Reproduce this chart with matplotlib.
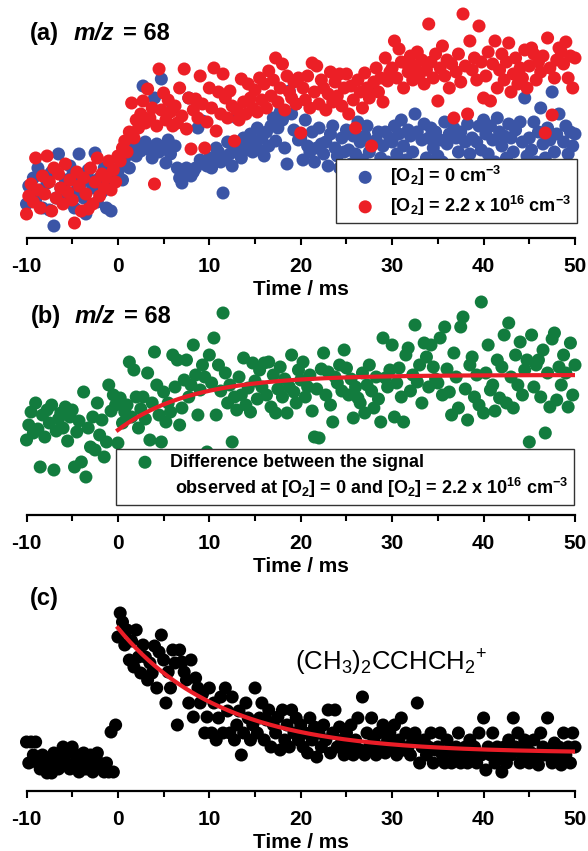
import numpy as np
import matplotlib
matplotlib.use("Agg")
import matplotlib.pyplot as plt
from matplotlib.lines import Line2D

# figure size in pixels (dpi 100)
W, H = 588, 851

plt.rcParams["font.family"] = ["Liberation Sans", "DejaVu Sans"]
plt.rcParams["font.weight"] = "bold"
plt.rcParams["axes.labelweight"] = "bold"
plt.rcParams["axes.unicode_minus"] = False
plt.rcParams["mathtext.fontset"] = "custom"
plt.rcParams["mathtext.rm"] = "Liberation Sans"
plt.rcParams["mathtext.bf"] = "Liberation Sans:bold"
plt.rcParams["mathtext.default"] = "bf"

# time axis: one sample every 0.25 ms from -10 to 50 ms
t_start = -10.0
t_step = 0.25

# (a) m/z = 68 signal, arbitrary units
signal_no_o2 = [
    34, 52, 45, 60, 38, 70, 48, 30, 62, 55, 28, 66, 12, 40, 84, 50, 35, 58, 44, 72,
    62, 30, 48, 84, 55, 40, 24, 68, 58, 50, 85, 36, 60, 46, 70, 30, 50, 27, 56, 62,
    66, 72, 58, 80, 87, 70, 84, 90, 82, 94, 87, 152, 96, 92, 88, 80, 140, 94, 86, 159,
    90, 75, 98, 84, 130, 92, 70, 60, 55, 64, 70, 140, 62, 66, 70, 110, 78, 117, 74, 72,
    80, 70, 78, 90, 86, 76, 45, 80, 96, 84, 72, 88, 120, 94, 80, 100, 88, 92, 104, 86,
    96, 110, 88, 100, 82, 106, 92, 112, 120, 97, 110, 126, 118, 90, 74, 147, 124, 108, 134, 98,
    100, 78, 118, 92, 86, 106, 76, 90, 110, 94, 84, 96, 72, 104, 112, 90, 82, 70, 100, 86,
    108, 88, 74, 102, 84, 116, 96, 78, 102, 112, 86, 150, 68, 98, 106, 80, 92, 106, 76, 100,
    96, 112, 84, 104, 118, 92, 78, 108, 102, 86, 124, 106, 72, 98, 114, 80, 100, 110, 90, 106,
    82, 98, 76, 116, 94, 104, 70, 110, 100, 86, 106, 72, 96, 114, 84, 100, 68, 96, 112, 88,
    118, 104, 84, 112, 98, 76, 120, 106, 92, 102, 80, 114, 100, 86, 108, 72, 116, 96, 140, 82,
    100, 88, 116, 76, 106, 130, 94, 80, 110, 98, 146, 86, 104, 124, 66, 96, 112, 84, 106, 92,
    104,
]
signal_with_o2 = [
    24, 42, 54, 36, 80, 48, 30, 62, 44, 82, 56, 27, 70, 40, 64, 50, 34, 74, 46, 58,
    38, 15, 66, 52, 27, 60, 44, 29, 70, 34, 56, 80, 42, 64, 50, 60, 77, 48, 68, 56,
    82, 77, 90, 97, 86, 106, 135, 100, 118, 110, 124, 137, 115, 149, 120, 130, 54, 112, 169, 128,
    145, 118, 138, 126, 112, 132, 115, 150, 122, 169, 109, 140, 89, 128, 139, 120, 162, 134, 90, 116,
    150, 130, 170, 107, 146, 124, 164, 140, 120, 147, 132, 97, 128, 118, 159, 136, 124, 154, 140, 130,
    148, 126, 160, 138, 154, 130, 167, 142, 158, 180, 136, 150, 174, 128, 162, 146, 140, 156, 134, 160,
    105, 150, 138, 162, 130, 175, 146, 172, 134, 158, 150, 128, 144, 166, 136, 156, 142, 164, 132, 150,
    164, 124, 152, 138, 110, 158, 146, 130, 165, 150, 140, 92, 156, 170, 146, 160, 136, 180, 157, 166,
    170, 197, 160, 189, 176, 150, 175, 166, 182, 158, 172, 186, 164, 178, 154, 168, 214, 176, 160, 184,
    137, 170, 192, 162, 178, 150, 174, 120, 166, 184, 156, 224, 172, 124, 197, 168, 180, 158, 212, 176,
    140, 162, 186, 137, 174, 197, 150, 168, 184, 158, 176, 195, 146, 164, 180, 154, 170, 160, 188, 150,
    172, 190, 184, 158, 176, 166, 182, 105, 200, 170, 123, 160, 178, 190, 186, 174, 196, 160, 182, 150,
    180,
]

# (b) difference signal
signal_diff = [
    75, 90, 103, 82, 112, 86, 48, 100, 78, 105, 92, 110, 45, 84, 96, 102, 87, 108, 74, 98,
    105, 48, 83, 94, 53, 123, 38, 87, 68, 98, 65, 112, 80, 95, 58, 73, 130, 104, 120, 110,
    72, 117, 92, 103, 110, 153, 98, 145, 118, 87, 106, 118, 96, 142, 75, 112, 163, 130, 100, 73,
    123, 93, 112, 103, 160, 128, 155, 90, 107, 135, 155, 118, 130, 170, 140, 100, 125, 150, 138, 63,
    160, 132, 177, 100, 150, 124, 202, 142, 112, 130, 73, 118, 105, 138, 120, 157, 110, 127, 103, 152,
    134, 116, 145, 128, 152, 120, 153, 108, 140, 102, 126, 148, 118, 136, 102, 128, 160, 123, 112, 145,
    135, 153, 118, 128, 140, 104, 78, 126, 77, 146, 162, 120, 143, 110, 93, 138, 132, 150, 124, 165,
    147, 120, 136, 97, 128, 117, 112, 142, 102, 130, 150, 124, 107, 138, 116, 93, 177, 137, 128, 145,
    170, 98, 132, 147, 118, 93, 160, 167, 124, 140, 190, 133, 150, 112, 172, 158, 128, 170, 148, 136,
    132, 177, 120, 188, 146, 123, 100, 162, 138, 107, 188, 198, 126, 95, 150, 158, 118, 140, 110, 213,
    102, 142, 170, 125, 130, 104, 155, 117, 148, 180, 112, 192, 138, 107, 160, 130, 173, 120, 145, 155,
    73, 180, 128, 150, 155, 118, 165, 82, 142, 108, 176, 182, 115, 148, 130, 160, 142, 108, 172, 120,
    150,
]

# (c) (CH3)2CCHCH2+ signal
signal_c = [
    49, 28, 49, 36, 49, 28, 22, 36, 28, 18, 30, 18, 38, 28, 22, 36, 44, 28, 38, 22,
    44, 28, 36, 19, 28, 38, 22, 28, 36, 19, 28, 38, 28, 22, 19, 28, 19, 59, 19, 66,
    154, 178, 169, 146, 161, 131, 150, 124, 161, 134, 118, 146, 134, 111, 128, 118, 145, 103, 139, 156,
    131, 88, 119, 103, 141, 128, 66, 141, 129, 119, 111, 88, 131, 74, 113, 103, 88, 97, 58, 74,
    103, 58, 88, 51, 73, 94, 58, 103, 80, 58, 94, 51, 66, 80, 36, 58, 88, 73, 51, 66,
    103, 58, 73, 88, 51, 71, 81, 44, 66, 58, 74, 41, 81, 51, 66, 44, 81, 58, 73, 51,
    66, 44, 58, 38, 73, 51, 64, 34, 58, 44, 66, 51, 81, 38, 58, 81, 44, 64, 51, 36,
    58, 44, 66, 36, 51, 73, 41, 94, 36, 58, 44, 73, 51, 36, 58, 44, 66, 38, 51, 58,
    44, 66, 36, 51, 73, 41, 58, 44, 36, 51, 58, 88, 28, 44, 51, 36, 44, 58, 28, 41,
    44, 58, 36, 28, 51, 41, 28, 36, 44, 58, 28, 36, 44, 28, 51, 36, 44, 28, 58, 36,
    73, 21, 44, 36, 58, 28, 44, 36, 19, 44, 28, 51, 36, 73, 44, 58, 28, 36, 51, 44,
    28, 38, 51, 36, 26, 58, 44, 36, 73, 38, 28, 48, 36, 44, 26, 58, 36, 44, 28, 58,
    44,
]

# single exponential fits (offset, amplitude, time constant in ms)
fit_b = (140.0, -55.0, 8.0)
fit_c = (38.0, 125.0, 11.2)

x_ticks = [-10, 0, 10, 20, 30, 40, 50]

time_ms = t_start + t_step * np.arange(len(signal_c))


def fx(x):
    return x / W


def fy(y):
    return 1 - y / H


def make_axes(top, bottom):
    # x from -10 ms at px 26.5 to 50 ms at px 575
    ax = fig.add_axes([fx(26.5), fy(bottom), (575 - 26.5) / W, (bottom - top) / H])
    ax.set_xlim(-10, 50)
    ax.set_ylim(0, bottom - top)
    for s in ["left", "right", "top"]:
        ax.spines[s].set_visible(False)
    ax.spines["bottom"].set_linewidth(1.6)
    ax.set_yticks([])
    ax.set_xticks(x_ticks)
    ax.set_xticks(np.arange(-5, 50, 10), minor=True)
    ax.tick_params(axis="x", which="major", length=5, width=1.5, pad=8.5, labelsize=15)
    ax.tick_params(axis="x", which="minor", length=4, width=1.5)
    ax.set_xlabel("Time / ms", fontsize=15, labelpad=3)
    ax.patch.set_alpha(0)
    return ax


def fit_curve(params, t):
    off, amp, tau = params
    return off + amp * np.exp(-t / tau)


def panel_title(letter, x_base, y_base, with_mz=True):
    fig.text(fx(x_base), fy(y_base), "(%s)" % letter, fontsize=17, va="baseline")
    if with_mz:
        fig.text(fx(x_base + 44), fy(y_base), "m/z", fontsize=17.5, style="italic",
                 va="baseline")
        fig.text(fx(x_base + 93), fy(y_base), "= 68", fontsize=17, va="baseline")


def add_legend(ax, handles, labels, right, bottom, spacing):
    leg = ax.legend(handles, labels, loc="lower right",
                    bbox_to_anchor=(fx(right), fy(bottom)),
                    bbox_transform=fig.transFigure, fontsize=13, fancybox=False,
                    framealpha=1, edgecolor="#333333", borderpad=0.3,
                    labelspacing=spacing, handletextpad=0.1, handlelength=2.6,
                    borderaxespad=0)
    leg.get_frame().set_linewidth(1.0)
    leg.set_zorder(10)
    return leg


fig = plt.figure(figsize=(W / 100, H / 100), dpi=100)

dot = 88
fit_color = "#ea1d27"

# ---- (a)
ax_a = make_axes(0, 238)
sc_blue = ax_a.scatter(time_ms, signal_no_o2, s=dot, color="#3b55a6", edgecolors="none",
                       clip_on=False, zorder=2)
sc_red = ax_a.scatter(time_ms, signal_with_o2, s=dot, color="#ec1f26", edgecolors="none",
                      clip_on=False, zorder=3)
add_legend(ax_a, [sc_blue, sc_red],
           [r"[O$_2$] = 0 cm$^{-3}$", r"[O$_2$] = 2.2 x 10$^{16}$ cm$^{-3}$"],
           577, 223, 0.3)
panel_title("a", 30, 40)

# ---- (b)
ax_b = make_axes(290, 515)
sc_green = ax_b.scatter(time_ms, signal_diff, s=dot, color="#127c3e", edgecolors="none",
                        clip_on=False, zorder=2)
t_fit = np.linspace(0, 50, 300)
ax_b.plot(t_fit, fit_curve(fit_b, t_fit), color=fit_color, lw=3, zorder=4)
blank = Line2D([], [], linestyle="none")
add_legend(ax_b, [sc_green, blank],
           ["Difference between the signal",
            r" observed at [O$_2$] = 0 and [O$_2$] = 2.2 x 10$^{16}$ cm$^{-3}$"],
           574, 505, 0.25)
panel_title("b", 31, 323)

# ---- (c)
ax_c = make_axes(595, 791)
ax_c.scatter(time_ms, signal_c, s=dot, color="black", edgecolors="none",
             clip_on=False, zorder=2)
ax_c.plot(t_fit, fit_curve(fit_c, t_fit), color=fit_color, lw=3, zorder=4)
panel_title("c", 30, 605, with_mz=False)
fig.text(fx(295), fy(670),
         r"(CH$_\mathregular{3}$)$_\mathregular{2}$CCHCH$_\mathregular{2}$$^\mathregular{+}$",
         fontsize=18.5, fontweight="normal", va="baseline")

fig.savefig("out.png", dpi=100)
